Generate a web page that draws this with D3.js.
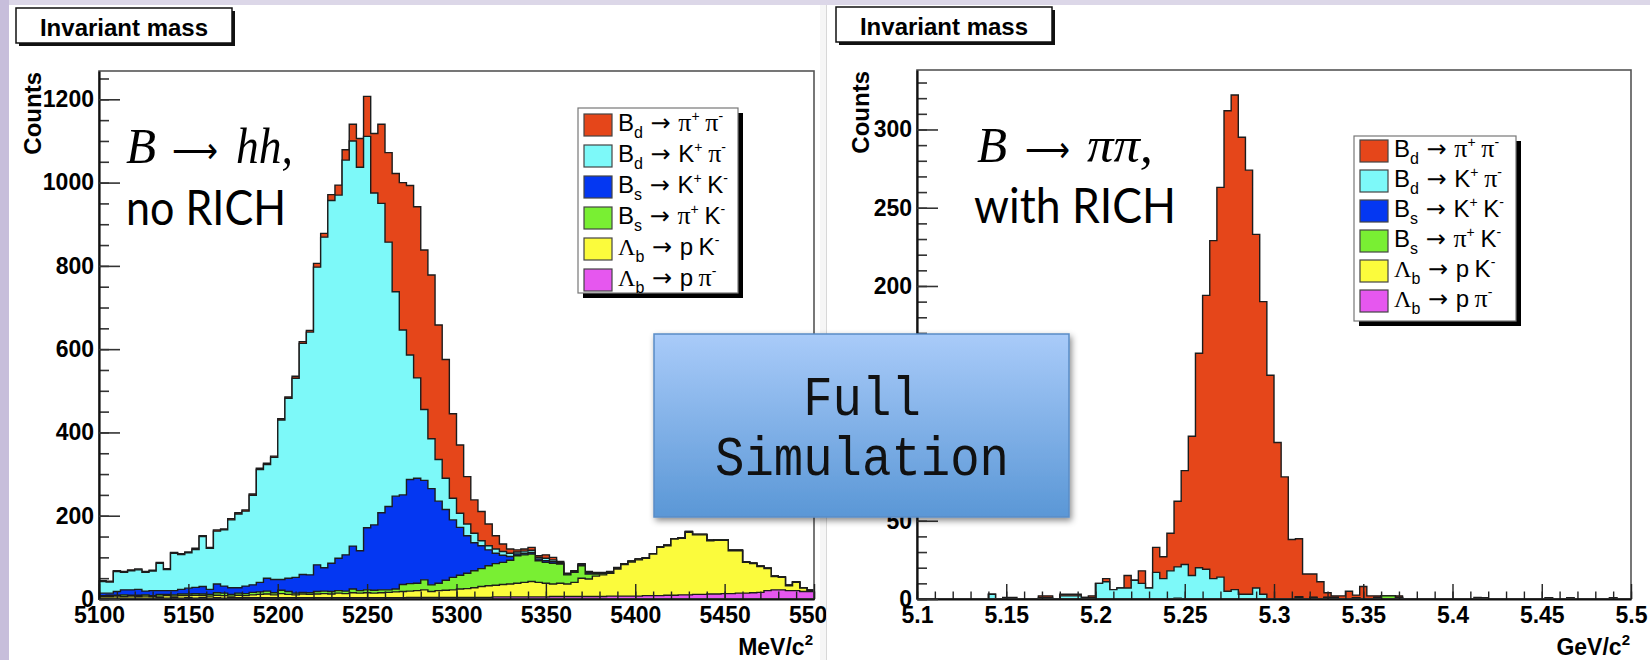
<!DOCTYPE html>
<html><head><meta charset="utf-8">
<script src="https://cdn.jsdelivr.net/npm/d3@7"></script>
<style>body{margin:0;background:#fff}svg{display:block}</style>
</head><body>
<svg id="c" width="1650" height="660"></svg>
<script>
// ---------------- DATA ----------------
const seriesKeys = ["LbPPi", "LbPK", "BsPiK", "BsKK", "BdKPi", "BdPiPi"]; // bottom -> top of stack
const seriesColors = ["#e657ef", "#fbfb3c", "#79ef33", "#0437f2", "#7df9f9", "#e5461a"];

// Left panel (no RICH): 100 bins, 5100-5500 MeV/c^2
const leftRange = [5100, 5500];
const leftBdPiPi = [2,2,2,2,2,2,2,2,2,2, 2,2,2,3,2,2,3,2,3,3, 3,3,3,3,3,3,3,5,4,4, 9,9,14,24,25,40,69,96,143,190, 215,284,354,407,411,383,393,323,285,203, 164,114,80,70,52,32,18,10,5,5, 7,4,8,6,2,1,1,2,1,1, 1,1,1,0,0,0,0,0,0,0, 0,0,0,0,0,0,0,0,0,0, 0,0,0,0,0,0,0,0,0,0];
const leftBdKPi = [28,27,48,42,46,47,45,47,66,51, 90,84,85,91,120,99,127,135,163,177, 180,215,271,273,293,383,432,478,555,583, 715,794,871,872,948,973,921,940,797,743, 635,491,396,299,241,170,120,100,75,52, 34,28,23,12,10,10,9,8,5,5, 5,4,6,4,2,1,1,1,2,1, 1,0,0,0,0,1,0,0,0,0, 0,0,1,0,0,0,0,0,0,0, 0,0,0,0,0,0,0,0,0,0];
const leftBsKK = [6,5,9,12,13,14,9,12,9,9, 10,11,14,15,18,12,21,17,16,13, 18,18,23,31,32,26,32,38,43,43, 64,56,68,78,87,103,96,149,157,185, 200,223,215,250,252,239,231,197,170,138, 115,90,67,55,38,25,17,9,4,4, 4,4,4,4,2,2,2,2,3,2, 1,1,1,0,0,0,0,0,0,0, 0,0,0,0,0,0,0,0,0,0, 0,0,0,0,0,0,0,0,0,0];
const leftBsPiK = [2,3,2,4,2,3,3,2,4,3, 3,4,4,4,4,4,6,6,4,5, 5,6,6,7,5,8,7,4,4,4, 6,6,6,6,6,9,6,7,7,7, 6,7,17,18,18,24,16,18,24,30, 33,37,41,43,48,52,53,57,66,66, 66,52,50,50,46,22,24,30,12,5, 3,2,2,2,2,1,1,1,1,1, 1,1,1,1,1,1,1,1,1,1, 1,1,1,1,1,1,1,1,1,1];
const leftLbPK = [4,4,5,4,5,4,5,4,4,6, 4,6,5,7,5,5,6,6,4,6, 5,7,8,9,7,10,8,7,9,8, 9,10,9,11,10,12,11,12,11,12, 13,14,15,15,16,18,14,16,17,18, 20,21,23,26,28,28,30,31,33,35, 37,35,33,30,32,30,34,44,42,49, 52,55,65,76,82,87,90,100,116,119, 135,136,150,143,143,128,129,128,103,102, 74,70,62,53,32,30,12,20,8,2];
const leftLbPPi = [2,2,2,2,2,2,2,2,3,2, 3,2,3,2,3,2,3,2,3,3, 3,3,3,3,3,3,3,3,3,3, 3,3,3,3,3,3,3,3,3,3, 3,3,3,4,4,4,4,4,4,4, 4,4,4,4,4,5,5,5,5,5, 5,5,5,6,6,6,6,6,6,6, 6,7,7,7,7,7,8,8,8,9, 9,10,10,11,11,12,12,13,13,14, 14,15,16,20,22,22,20,20,18,18];

// Right panel (with RICH): 100 bins, 5.1-5.5 GeV/c^2
const rightRange = [5.1, 5.5];
const rightBdPiPi = [0,0,0,0,0,0,0,0,0,0, 0,0,1,1,0,0,0,1,1,0, 1,1,1,0,1,0,2,0,0,8, 0,8,0,16,14,24,42,60,89,137, 175,216,249,307,316,292,271,226,187,143, 100,78,38,37,16,15,11,3,1,2, 5,2,8,2,1,0,0,1,0,0, 0,0,0,0,0,0,0,0,1,0, 0,0,0,0,0,0,0,0,0,0, 0,0,0,0,0,0,0,0,0,0];
const rightBdKPi = [0,0,0,0,0,0,0,0,0,0, 3,0,0,0,0,0,0,1,1,0, 2,2,2,1,1,10,11,6,7,7, 12,10,7,17,13,18,20,22,15,20, 19,13,14,5,6,3,3,7,3,0, 0,0,0,0,0,0,0,0,0,0, 0,0,0,0,0,0,0,0,0,0, 0,0,0,0,0,0,0,0,0,0, 0,0,0,0,0,0,0,0,0,0, 0,0,0,0,0,0,0,0,0,0];
const rightBsKK = [0,0,0,0,0,0,0,0,0,0, 0,0,0,0,0,0,0,0,0,0, 0,0,0,0,0,0,0,0,0,0, 0,0,0,0,0,0,0.5,0,0,0, 0,0,0,0,0,0,0,0,0,0, 0,0,0,0.5,0,0,0,0,0,0, 0,0,0,0,0,0,0,0,0,0, 0,0,0,0,0,0,0,0,0,0, 0,0,0,0,0,0,0,0,0,0, 0,0,0,0,0,0,0,0,0,0];
const rightBsPiK = [0,0,0,0,0,0,0,0,0,0, 0,0,0,0,0,0,0,0,0,0, 0,0,0,0,0,0,0,0,0,0, 0,0,0,0,0,0,0,0,0,0, 0,0,0,0,0,0,0,0,0,0, 0,0,0,1,0,1,0,1,1,0, 0,0,0,0,1,2,2,1,0,0, 0,0,0,0,0,0,0,0,0,0, 0,0,0,0,0,0,0,0,0,0, 0,0,0,0,0,0,0,0,0,0];
const rightLbPK = [0,0,0,0,0,0,0,0,0,0, 0,0,0,0,0,0,0,0,0,0, 0,0,0,0,0,0,0,0,0,0, 0,0,0,0,0,0,0,0,0,0, 0,0,0,0,0,0,0,0,0,0, 0,0,0,0,0,0,0,0,0,0, 0,0,0,0,0,0,0,0,0,0, 0,0,0,0,0,0,0,0,0,0, 0,0,0,0,0,0,0,0,0,0, 0,0,0,0,0,0,0,0,0,0];
const rightLbPPi = [0,0,0,0,0,0,0,0,0,0, 0,0,0,0,0,0,0,0,0,0, 0,0,0,0,0,0,0,0,0,0, 0,0,0,0,0,0,0,0,0,0, 0,0,0,0,0,0,0,0,0,0, 0,0,0,0,0,0,0,0,0,0, 0,0.5,0,0,0,0,0,0,0,0, 0,0,0,0,0,0,0,0,0,0.5, 0,0,0,0,0,0,0,0,0.5,0, 0,0.5,0,0,0,0,0,0.5,0,0];

// Axis ticks and labels
const leftXTicks = [5100,5150,5200,5250,5300,5350,5400,5450,5500];
const leftYTicks = [0,200,400,600,800,1000,1200];
const rightXTicks = [5.1,5.15,5.2,5.25,5.3,5.35,5.4,5.45,5.5];
const rightXLabels = ["5.1","5.15","5.2","5.25","5.3","5.35","5.4","5.45","5.5"];
const rightYTicks = [0,50,100,150,200,250,300];

// Legend labels
const legendMain = ["B","B","B","B","\u039B","\u039B"];
const legendSub = ["d","d","s","s","b","b"];
const legendProducts = [
  [["\u03C0","+"],["\u03C0","-"]],
  [["K","+"],["\u03C0","-"]],
  [["K","+"],["K","-"]],
  [["\u03C0","+"],["K","-"]],
  [["p",""],["K","-"]],
  [["p",""],["\u03C0","-"]]
];
const legendOrder = [5,4,3,2,1,0]; // legend lists top of stack first

// ---------------- DRAWING ----------------
const svg = d3.select("#c");
const SANS = "'Liberation Sans', Arial, Helvetica, sans-serif";
const SERIF = "'Liberation Serif', 'Times New Roman', serif";

// slide background
svg.append("rect").attr("x",0).attr("y",0).attr("width",1650).attr("height",660).attr("fill","#ffffff");
svg.append("rect").attr("x",0).attr("y",0).attr("width",1650).attr("height",5).attr("fill","#dcd7e8");
svg.append("rect").attr("x",0).attr("y",0).attr("width",9).attr("height",660).attr("fill","#c7bedb");
svg.append("rect").attr("x",820).attr("y",5).attr("width",7).attr("height",655).attr("fill","#f6f6f6");
svg.append("line").attr("x1",826.5).attr("x2",826.5).attr("y1",5).attr("y2",660).attr("stroke","#d8d8d8");

const defs = svg.append("defs");
defs.append("clipPath").attr("id","clipL").append("rect").attr("x",9).attr("y",0).attr("width",817).attr("height",660);
const grad = defs.append("linearGradient").attr("id","gradFS").attr("x1",0).attr("y1",0).attr("x2",0).attr("y2",1);
grad.append("stop").attr("offset","0%").attr("stop-color","#a9cbf9");
grad.append("stop").attr("offset","100%").attr("stop-color","#5a97d6");
const filt = defs.append("filter").attr("id","shadowFS").attr("x","-10%").attr("y","-10%").attr("width","130%").attr("height","130%");
filt.append("feDropShadow").attr("dx",2).attr("dy",3).attr("stdDeviation",3).attr("flood-color","#000").attr("flood-opacity",0.45);

function makeRows(arrs) {
  return d3.range(arrs[0].length).map(i => {
    const r = {};
    seriesKeys.forEach((k, j) => r[k] = arrs[j][i]);
    return r;
  });
}

function drawPanel(cfg) {
  const g = svg.append("g").attr("clip-path", cfg.clip ? "url(#clipL)" : null);
  const x = d3.scaleLinear().domain(cfg.xDomain).range([cfg.left, cfg.right]);
  const y = d3.scaleLinear().domain([0, cfg.yMax]).range([cfg.bottom, cfg.top]);
  const nb = cfg.arrays[0].length;
  const bw = (cfg.xDomain[1] - cfg.xDomain[0]) / nb;
  const edges = d3.range(nb + 1).map(i => cfg.xDomain[0] + i * bw);
  const stacked = d3.stack().keys(seriesKeys)(makeRows(cfg.arrays));
  const line = d3.line().x(d => x(d[0])).y(d => y(d[1]));

  const plot = g.append("g");
  for (let k = stacked.length - 1; k >= 0; k--) {
    const layer = stacked[k];
    const pts = [[edges[0], 0]];
    layer.forEach((d, i) => { pts.push([edges[i], d[1]]); pts.push([edges[i + 1], d[1]]); });
    pts.push([edges[nb], 0]);
    plot.append("path").attr("d", line(pts) + "Z")
      .attr("fill", seriesColors[k]).attr("stroke", "#1c1c1c").attr("stroke-width", 1.4)
      .attr("stroke-linejoin", "miter");
  }

  // frame
  g.append("rect").attr("x", cfg.left).attr("y", cfg.top)
    .attr("width", cfg.right - cfg.left).attr("height", cfg.bottom - cfg.top)
    .attr("fill", "none").attr("stroke", "#555").attr("stroke-width", 1.6);

  // minor ticks
  const xMinor = d3.range(cfg.xDomain[0], cfg.xDomain[1] + cfg.xMinorStep / 2, cfg.xMinorStep);
  const yMinor = d3.range(0, cfg.yMax, cfg.yMinorStep);
  g.append("g").attr("transform", `translate(0,${cfg.bottom})`)
    .call(d3.axisBottom(x).tickValues(xMinor).tickSizeInner(-7.5).tickSizeOuter(0).tickFormat(""))
    .call(a => a.select(".domain").remove())
    .selectAll("line").attr("stroke", "#222").attr("stroke-width", 1.4);
  g.append("g").attr("transform", `translate(${cfg.left},0)`)
    .call(d3.axisLeft(y).tickValues(yMinor).tickSizeInner(-10).tickSizeOuter(0).tickFormat(""))
    .call(a => a.select(".domain").remove())
    .selectAll("line").attr("stroke", "#333").attr("stroke-width", 1.6);

  // major ticks + labels
  const xa = g.append("g").attr("transform", `translate(0,${cfg.bottom})`)
    .call(d3.axisBottom(x).tickValues(cfg.xTicks).tickSizeInner(-15).tickSizeOuter(0).tickPadding(8)
      .tickFormat((d, i) => cfg.xLabels[i]));
  xa.select(".domain").attr("stroke", "#111").attr("stroke-width", 2.2);
  xa.selectAll("line").attr("stroke", "#222").attr("stroke-width", 1.4);
  xa.selectAll("text").attr("font-family", SANS).attr("font-weight", "bold").attr("font-size", 23).attr("fill", "#000");

  const ya = g.append("g").attr("transform", `translate(${cfg.left},0)`)
    .call(d3.axisLeft(y).tickValues(cfg.yTicks).tickSizeInner(-21).tickSizeOuter(0).tickPadding(5)
      .tickFormat(d3.format("d")));
  ya.select(".domain").attr("stroke", "#111").attr("stroke-width", 2.2);
  ya.selectAll("line").attr("stroke", "#333").attr("stroke-width", 1.6);
  ya.selectAll("text").attr("font-family", SANS).attr("font-weight", "bold").attr("font-size", 23).attr("fill", "#000");

  // axis titles
  g.append("text").attr("transform", `translate(${cfg.countsX},${cfg.top + 1}) rotate(-90)`)
    .attr("text-anchor", "end").attr("font-family", SANS).attr("font-weight", "bold")
    .attr("font-size", 24).text("Counts");
  const ut = g.append("text").attr("x", cfg.right - 1).attr("y", 655).attr("text-anchor", "end")
    .attr("font-family", SANS).attr("font-weight", "bold").attr("font-size", 23);
  ut.append("tspan").text(cfg.unit);
  ut.append("tspan").attr("dy", -10).attr("font-size", 15).text("2");

  // title box
  const tb = cfg.titleBox;
  g.append("rect").attr("x", tb[0] + 3).attr("y", tb[1] + 3).attr("width", tb[2]).attr("height", tb[3]).attr("fill", "#111");
  g.append("rect").attr("x", tb[0]).attr("y", tb[1]).attr("width", tb[2]).attr("height", tb[3])
    .attr("fill", "#fff").attr("stroke", "#111").attr("stroke-width", 1.5);
  g.append("text").attr("x", tb[0] + tb[2] / 2).attr("y", tb[1] + 28).attr("text-anchor", "middle")
    .attr("font-family", SANS).attr("font-weight", "bold").attr("font-size", 24).text("Invariant mass");

  // legend
  const lb = cfg.legendBox;
  g.append("rect").attr("x", lb[0] + 5).attr("y", lb[1] + 5).attr("width", lb[2]).attr("height", lb[3]).attr("fill", "#000");
  g.append("rect").attr("x", lb[0]).attr("y", lb[1]).attr("width", lb[2]).attr("height", lb[3])
    .attr("fill", "#fff").attr("stroke", "#777").attr("stroke-width", 1.2);
  legendOrder.forEach((k, row) => {
    const base = cfg.legendBase + row * cfg.legendStep;
    g.append("rect").attr("x", lb[0] + 6).attr("y", base - 17).attr("width", 28).attr("height", 22)
      .attr("fill", seriesColors[k]).attr("stroke", "#444").attr("stroke-width", 1.2);
    const t = g.append("text").attr("x", lb[0] + 40).attr("y", base).attr("font-family", SANS)
      .attr("font-size", 24).style("white-space", "pre");
    const li = 5 - k;
    t.append("tspan").attr("font-family", legendMain[li] === "B" ? SANS : SERIF).text(legendMain[li]);
    t.append("tspan").attr("font-size", 16).attr("dy", 7).text(legendSub[li]);
    t.append("tspan").attr("dy", -7).attr("font-family", "'DejaVu Sans', sans-serif").attr("font-size", 24).text(" \u2192 ");
    legendProducts[li].forEach((p, pi) => {
      if (pi > 0) t.append("tspan").attr("font-size", 20).text(" ");
      t.append("tspan").attr("font-family", p[0] === "\u03C0" ? SERIF : SANS)
        .attr("font-size", p[0] === "\u03C0" ? 26 : 24).text(p[0]);
      if (p[1]) {
        t.append("tspan").attr("font-size", 14).attr("dy", -10).text(p[1]);
        t.append("tspan").attr("dy", 10).attr("font-size", 1).text("\u200A");
      }
    });
  });
  return g;
}

drawPanel({
  clip: true, xDomain: leftRange, yMax: 1268, left: 99, right: 814, top: 71, bottom: 599,
  arrays: [leftLbPPi, leftLbPK, leftBsPiK, leftBsKK, leftBdKPi, leftBdPiPi],
  xTicks: leftXTicks, xLabels: leftXTicks.map(String), yTicks: leftYTicks,
  xMinorStep: 10, yMinorStep: 50, countsX: 41, unit: "MeV/c",
  titleBox: [16, 8, 216, 35], legendBox: [578, 108, 160, 185], legendBase: 131, legendStep: 31
});
drawPanel({
  clip: false, xDomain: rightRange, yMax: 338, left: 917, right: 1631, top: 70, bottom: 599,
  arrays: [rightLbPPi, rightLbPK, rightBsPiK, rightBsKK, rightBdKPi, rightBdPiPi],
  xTicks: rightXTicks, xLabels: rightXLabels, yTicks: rightYTicks,
  xMinorStep: 0.01, yMinorStep: 10, countsX: 869, unit: "GeV/c",
  titleBox: [836, 7, 216, 35], legendBox: [1354, 136, 162, 185], legendBase: 157, legendStep: 30
});

// ---------------- annotations ----------------
function stretchText(x, y, str, family, size, style, len, sy) {
  const t = svg.append("text").attr("transform", `translate(${x},${y}) scale(1,${sy})`)
    .attr("font-family", family).attr("font-size", size).attr("font-style", style || "normal")
    .attr("fill", "#000").text(str);
  if (len) t.attr("textLength", len).attr("lengthAdjust", "spacingAndGlyphs");
  return t;
}
const SY = 1.12;
const ARROWF = "'DejaVu Sans', sans-serif";
// left
stretchText(126, 163, "B", SERIF, 46, "italic", 30, SY);
stretchText(172, 163, "\u27F6", ARROWF, 36, "normal", 46, 1);
stretchText(236, 163, "hh,", SERIF, 46, "italic", 57, SY);
stretchText(126, 225, "no RICH", "Lato, 'Open Sans', sans-serif", 44, "normal", 160, SY);
// right
stretchText(977, 162, "B", SERIF, 46, "italic", 30, SY);
stretchText(1025, 162, "\u27F6", ARROWF, 36, "normal", 45, 1);
stretchText(1087, 162, "\u03C0\u03C0,", SERIF, 46, "italic", 66, SY);
stretchText(974, 223, "with RICH", "Lato, 'Open Sans', sans-serif", 44, "normal", 202, SY);

// Full Simulation box
svg.append("rect").attr("x", 654).attr("y", 334).attr("width", 415).attr("height", 183)
  .attr("fill", "url(#gradFS)").attr("stroke", "#5a8cc6").attr("stroke-width", 1.5)
  .attr("filter", "url(#shadowFS)");
const fsT = ["Full", "Simulation"];
fsT.forEach((s, i) => {
  svg.append("text").attr("transform", `translate(862,${415 + i * 60}) scale(1,1.12)`)
    .attr("text-anchor", "middle").attr("font-family", "'Liberation Mono', 'Courier New', monospace")
    .attr("font-size", 49).attr("fill", "#111").text(s);
});
</script>
</body></html>
